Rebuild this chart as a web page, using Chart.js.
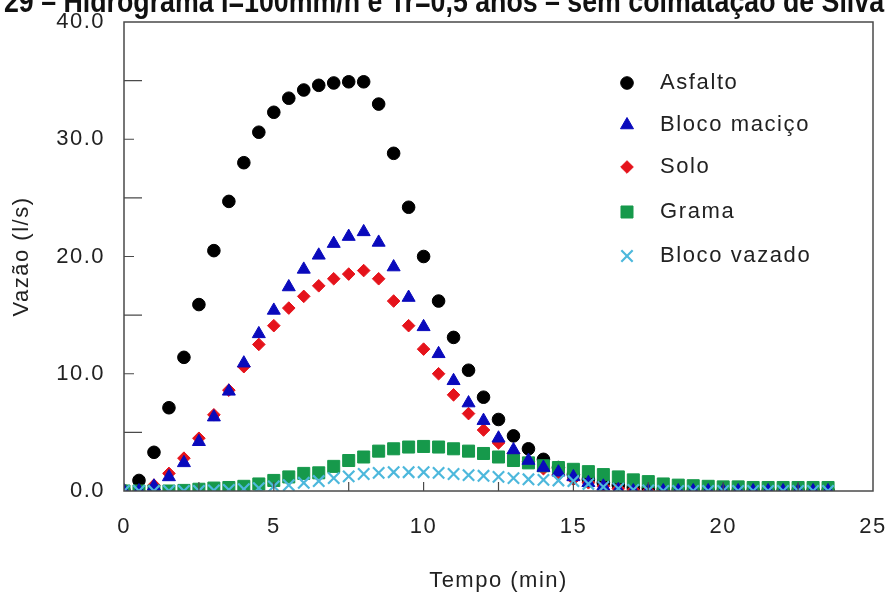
<!DOCTYPE html>
<html>
<head>
<meta charset="utf-8">
<script src="https://cdn.jsdelivr.net/npm/chart.js@4"></script>
<style>
  html, body { margin: 0; padding: 0; background: #fff; }
  #wrap { width: 889px; height: 594px; position: relative; }
</style>
</head>
<body>
<div id="wrap"><canvas id="hidrograma"></canvas></div>
<script>
// tempo (min), one point every half minute
const tempo = [0, 0.5, 1, 1.5, 2, 2.5, 3, 3.5, 4, 4.5, 5, 5.5, 6, 6.5, 7, 7.5, 8, 8.5, 9, 9.5,
  10, 10.5, 11, 11.5, 12, 12.5, 13, 13.5, 14, 14.5, 15, 15.5, 16, 16.5, 17, 17.5, 18, 18.5, 19, 19.5,
  20, 20.5, 21, 21.5, 22, 22.5, 23, 23.5];

// vazão (l/s)
const asfalto = [0, 0.9, 3.3, 7.1, 11.4, 15.9, 20.5, 24.7, 28.0, 30.6, 32.3, 33.5, 34.2, 34.6, 34.8, 34.9, 34.9,
  33.0, 28.8, 24.2, 20.0, 16.2, 13.1, 10.3, 8.0, 6.1, 4.7, 3.6, 2.7, 2.0, 1.4, 1.0, 0.7, 0.5, 0.3, 0.2, 0.1, 0.1,
  0, 0, 0, 0, 0, 0, 0, 0, 0, 0];
const blocoMacico = [0, 0, 0.4, 1.2, 2.4, 4.2, 6.3, 8.5, 10.9, 13.4, 15.4, 17.4, 18.9, 20.1, 21.1, 21.7, 22.1,
  21.2, 19.1, 16.5, 14.0, 11.7, 9.4, 7.5, 6.0, 4.5, 3.5, 2.6, 2.0, 1.6, 1.2, 0.7, 0.4, 0.1,
  0, 0, 0, 0, 0, 0, 0, 0, 0, 0, 0, 0, 0, 0];
const solo = [0, 0, 0.5, 1.5, 2.8, 4.5, 6.5, 8.6, 10.6, 12.5, 14.1, 15.6, 16.6, 17.5, 18.1, 18.5, 18.8,
  18.1, 16.2, 14.1, 12.1, 10.0, 8.2, 6.6, 5.2, 4.1, 3.2, 2.5, 1.9, 1.4, 1.0, 0.7, 0.4, 0.2, 0.1,
  0, 0, 0, 0, 0, 0, 0, 0, 0, 0, 0, 0, 0];
const grama = [0, 0, 0, 0, 0.05, 0.15, 0.25, 0.3, 0.4, 0.6, 0.9, 1.2, 1.5, 1.55, 2.1, 2.6, 2.9, 3.4, 3.6, 3.75,
  3.8, 3.75, 3.6, 3.4, 3.2, 2.9, 2.6, 2.4, 2.15, 2.0, 1.85, 1.65, 1.4, 1.2, 0.95, 0.8, 0.6, 0.5, 0.45, 0.4,
  0.35, 0.35, 0.3, 0.3, 0.3, 0.3, 0.3, 0.3];
const blocoVazado = [0, 0, 0, 0, 0, 0, 0.05, 0.1, 0.15, 0.25, 0.4, 0.5, 0.7, 0.85, 1.1, 1.25, 1.45, 1.55, 1.6, 1.6,
  1.6, 1.55, 1.45, 1.35, 1.3, 1.2, 1.1, 1.0, 0.95, 0.9, 0.85, 0.6, 0.35, 0.2, 0.1, 0.05,
  0, 0, 0, 0, 0, 0, 0, 0, 0, 0, 0, 0];

const seriesNames = ['Asfalto', 'Bloco maciço', 'Solo', 'Grama', 'Bloco vazado'];
const xTickValues = [0, 5, 10, 15, 20, 25];
const yTickValues = [0, 10, 20, 30, 40];
const chartTitle = '29 – Hidrograma I=100mm/h e Tr=0,5 anos – sem colmatação de Silva';

const FONT = "'Liberation Sans', Arial, sans-serif";
const TEXT = '#222';
const FRAME = '#4a4a4a';

function points(values) {
    return values.map((v, i) => ({ x: tempo[i], y: v }));
}

const styles = [
    { pointStyle: 'circle', pointRadius: 6.3, color: '#000000', order: 5 },
    { pointStyle: 'triangle', pointRadius: 7.5, color: '#0a0abc', order: 2 },
    { pointStyle: 'rectRot', pointRadius: 6.3, color: '#e5131b', order: 4 },
    { pointStyle: 'rect', pointRadius: 8.5, color: '#16994b', order: 3 },
    { pointStyle: 'crossRot', pointRadius: 8, color: '#4db8dc', order: 1 }
];
const seriesValues = [asfalto, blocoMacico, solo, grama, blocoVazado];

const datasets = seriesNames.map((name, i) => ({
    label: name,
    data: points(seriesValues[i]),
    pointStyle: styles[i].pointStyle,
    pointRadius: styles[i].pointRadius,
    pointBackgroundColor: styles[i].color,
    pointBorderColor: styles[i].color,
    pointBorderWidth: styles[i].pointStyle === 'crossRot' ? 2.2 : 1,
    showLine: false,
    order: styles[i].order
}));

// frame, inward ticks, title and the legend inside the plot
const decorations = {
    id: 'decorations',
    beforeDraw(chart) {
        chart.ctx.letterSpacing = '1.5px';
    },
    afterDraw(chart) {
        const ctx = chart.ctx;
        const area = chart.chartArea;
        const xs = chart.scales.x, ys = chart.scales.y;
        ctx.save();
        ctx.strokeStyle = FRAME;
        ctx.lineWidth = 1.5;
        ctx.strokeRect(area.left, area.top, area.right - area.left, area.bottom - area.top);

        ctx.lineWidth = 1.2;
        ctx.beginPath();
        for (let v = 5; v < 40; v += 5) {
            const y = ys.getPixelForValue(v);
            const len = v % 10 === 0 ? 10 : 18;
            ctx.moveTo(area.left, y);
            ctx.lineTo(area.left + len, y);
        }
        for (let v = 2.5; v < 25; v += 2.5) {
            const x = xs.getPixelForValue(v);
            ctx.moveTo(x, area.bottom);
            ctx.lineTo(x, area.bottom - 9);
        }
        ctx.stroke();

        // legend
        const rows = [83, 125, 167, 212, 256];
        ctx.font = '22px ' + FONT;
        ctx.textBaseline = 'middle';
        ctx.textAlign = 'left';
        ctx.letterSpacing = '1.6px';
        seriesNames.forEach((name, i) => {
            const st = styles[i];
            ctx.fillStyle = st.color;
            ctx.strokeStyle = st.color;
            ctx.lineWidth = st.pointStyle === 'crossRot' ? 2.2 : 1;
            Chart.helpers.drawPoint(ctx, { pointStyle: st.pointStyle, radius: st.pointRadius, borderWidth: ctx.lineWidth }, 627, rows[i]);
            ctx.fillStyle = TEXT;
            ctx.fillText(name, 660, rows[i]);
        });

        // title, cut off at the top edge
        ctx.letterSpacing = '0px';
        ctx.font = 'bold 32px Liberation Sans, Arial, sans-serif';
        ctx.fillStyle = '#111';
        ctx.textBaseline = 'alphabetic';
        const w = ctx.measureText(chartTitle).width;
        ctx.translate(4, 12);
        ctx.scale(880 / w, 1);
        ctx.fillText(chartTitle, 0, 0);
        ctx.restore();
    }
};

new Chart(document.getElementById('hidrograma'), {
    type: 'scatter',
    data: { datasets: datasets },
    plugins: [decorations],
    options: {
        responsive: true,
        maintainAspectRatio: false,
        animation: false,
        layout: { padding: { top: 22, right: 16, left: 0, bottom: 0 } },
        plugins: {
            legend: { display: false },
            tooltip: { enabled: false }
        },
        scales: {
            x: {
                type: 'linear',
                min: 0,
                max: 25,
                afterBuildTicks: axis => { axis.ticks = xTickValues.map(v => ({ value: v })); },
                afterFit: axis => {
                    axis.height = 103;
                    axis.paddingLeft = 0;
                    axis.paddingRight = 0;
                },
                grid: { display: false, drawTicks: false },
                border: { display: false },
                ticks: { padding: 23, color: TEXT, font: { family: FONT, size: 22 } },
                title: {
                    display: true,
                    text: 'Tempo (min)',
                    color: TEXT,
                    font: { family: FONT, size: 22 },
                    padding: { top: 1, bottom: 0 }
                }
            },
            y: {
                min: 0,
                max: 40,
                afterBuildTicks: axis => { axis.ticks = yTickValues.map(v => ({ value: v })); },
                afterFit: axis => {
                    axis.width = 124;
                    axis.paddingTop = 0;
                    axis.paddingBottom = 0;
                },
                grid: { display: false, drawTicks: false },
                border: { display: false },
                ticks: {
                    padding: 19,
                    color: TEXT,
                    font: { family: FONT, size: 22 },
                    callback: v => v.toFixed(1)
                },
                title: {
                    display: true,
                    text: 'Vazão (l/s)',
                    color: TEXT,
                    font: { family: FONT, size: 22 },
                    padding: { top: 9, bottom: 0 }
                }
            }
        }
    }
});
</script>
</body>
</html>
